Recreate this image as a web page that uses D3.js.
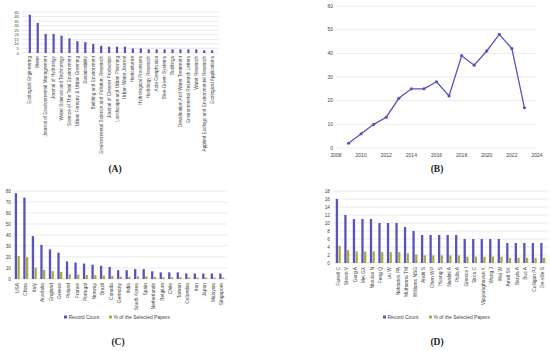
<!DOCTYPE html>
<html>
<head>
<meta charset="utf-8">
<script src="https://cdn.jsdelivr.net/npm/d3@7"></script>
<style>
  body { margin: 0; background: #fff; }
  svg { display: block; }
</style>
</head>
<body>
<div id="chart"></div>
<script>
// Panel A: journals
const journals = ["Ecological Engineering", "Water", "Journal of Environmental Management", "Journal of Hydrology",
  "Water Science and Technology", "Science of The Total Environment", "Urban Forestry & Urban Greening", "Sustainability",
  "Building and Environment", "Environmental Science and Pollution Research", "Journal of Cleaner Production",
  "Landscape and Urban Planning", "Urban Water Journal", "Horticulturae", "Hydrological Processes", "Hydrology Research",
  "Acta Geophysica", "Blue-Green Systems", "Buildings", "Desalination And Water Treatment", "Environmental Research Letters",
  "Water Research", "Applied Ecology and Environmental Research", "Ecological Applications"];
const journalCounts = [42, 33, 21, 21, 19, 16, 13, 12, 10, 8, 7, 7, 7, 5, 5, 4, 4, 4, 4, 4, 4, 4, 3, 3];

// Panel B: papers per year
const years = [2009, 2010, 2011, 2012, 2013, 2014, 2015, 2016, 2017, 2018, 2019, 2020, 2021, 2022, 2023];
const yearCounts = [2, 6, 10, 13, 21, 25, 25, 28, 22, 39, 35, 41, 48, 42, 17];

// Panel C: countries
const countries = ["USA", "China", "Italy", "Australia", "England", "Greece", "Poland", "France", "Portugal", "Norway",
  "Brazil", "Canada", "Germany", "India", "South Korea", "Spain", "Netherlands", "Belgium", "Chile", "Taiwan",
  "Colombia", "Iran", "Japan", "Malaysia", "Singapore"];
const countryCounts = [78, 74, 39, 31, 27, 24, 16, 15, 14, 13, 12, 11, 8, 8, 9, 9, 7, 6, 6, 6, 5, 5, 5, 5, 5];
const countryPct = [20.9, 19.8, 10.4, 8.3, 7.2, 6.4, 4.3, 4.0, 3.7, 3.5, 3.2, 2.9, 2.1, 2.1, 2.4, 2.4, 1.9, 1.6, 1.6, 1.6, 1.3, 1.3, 1.3, 1.3, 1.3];

// Panel D: authors
const authors = ["Farrell C", "Stovin V", "Garg A", "Mei GX", "Ntoulas N", "Feng Q", "Liu W", "Nektarios PA", "Muthanna TM",
  "Williams NSG", "Andri S", "Chen WP", "Huang S", "Nardini A", "Palla A", "Gnecco I", "Sirca C", "Vijayaraghavan K",
  "Wang J", "Wei W", "Arndt SK", "Baryla A", "Bus A", "Culligan PJ", "De-ville S"];
const authorCounts = [16, 12, 11, 11, 11, 10, 10, 10, 9, 8, 7, 7, 7, 7, 7, 6, 6, 6, 6, 6, 5, 5, 5, 5, 5];
const authorPct = [4.3, 3.2, 2.9, 2.9, 2.9, 2.7, 2.7, 2.7, 2.4, 2.1, 1.9, 1.9, 1.9, 1.9, 1.9, 1.6, 1.6, 1.6, 1.6, 1.6, 1.3, 1.3, 1.3, 1.3, 1.3];

const seriesNames = ["Record Count", "% of the Selected Papers"];

const blue = "#5753c2";
const olive = "#abab3c";
const grid = "#e2e2e2";
const txt = "#444";
const font = "'Liberation Sans', Arial, sans-serif";

const svg = d3.select("#chart").append("svg")
  .attr("width", 550).attr("height", 351)
  .attr("font-family", font);

// helper: horizontal gridlines + left tick labels
function yGrid(g, y, ticks, x0, x1, fs) {
  g.selectAll(".gl").data(ticks).join("line")
    .attr("x1", x0).attr("x2", x1)
    .attr("y1", d => y(d)).attr("y2", d => y(d))
    .attr("stroke", grid).attr("stroke-width", 0.7);
  g.selectAll(".tl").data(ticks).join("text")
    .attr("x", x0 - 3).attr("y", d => y(d))
    .attr("dy", "0.35em").attr("text-anchor", "end")
    .attr("font-size", fs).attr("fill", txt)
    .text(d => d);
}

function panelLabel(x, y, s) {
  svg.append("text").attr("x", x).attr("y", y)
    .attr("text-anchor", "middle")
    .attr("font-family", "'Liberation Serif', 'DejaVu Serif', serif")
    .attr("font-size", 9.5).attr("font-weight", "bold").attr("fill", "#222")
    .text(s);
}

/* ---------- Panel A ---------- */
const gA = svg.append("g");
const xA = d3.scaleBand().domain(journals).range([23, 219]).padding(0.72);
const yA = d3.scaleLinear().domain([0, 45]).range([53, 12]);
yGrid(gA, yA, d3.range(0, 46, 5), 22, 219, 4.3);

gA.selectAll(".bar").data(journals).join("rect")
  .attr("x", d => xA(d)).attr("width", xA.bandwidth())
  .attr("y", (d, i) => yA(journalCounts[i]))
  .attr("height", (d, i) => yA(0) - yA(journalCounts[i]))
  .attr("fill", blue);

gA.selectAll(".lab").data(journals).join("text")
  .attr("transform", d => `translate(${xA(d) + xA.bandwidth() / 2 + 1.5},56) rotate(-90)`)
  .attr("text-anchor", "end").attr("font-size", 4.7).attr("fill", txt)
  .text(d => d);
panelLabel(115, 172, "(A)");

/* ---------- Panel B ---------- */
const gB = svg.append("g");
const xB = d3.scaleLinear().domain([2008, 2024]).range([336, 537]);
const yB = d3.scaleLinear().domain([0, 60]).range([148, 6]);
yGrid(gB, yB, d3.range(0, 61, 10), 336, 537, 5);

gB.selectAll(".xt").data(d3.range(2008, 2025, 2)).join("text")
  .attr("x", d => xB(d)).attr("y", 157)
  .attr("text-anchor", "middle").attr("font-size", 5).attr("fill", txt)
  .text(d => d);

const line = d3.line().x((d, i) => xB(years[i])).y(d => yB(d));
gB.append("path").datum(yearCounts)
  .attr("d", line).attr("fill", "none")
  .attr("stroke", blue).attr("stroke-width", 1.3);
gB.selectAll(".pt").data(yearCounts).join("circle")
  .attr("cx", (d, i) => xB(years[i])).attr("cy", d => yB(d))
  .attr("r", 1.6).attr("fill", blue);
panelLabel(437, 172, "(B)");

/* ---------- grouped bars (C and D) ---------- */
function grouped(cats, counts, pct, yMax, yStep, yTop, yBot, x0, x1, gridX0, labY, legY, legX, legGap) {
  const g = svg.append("g");
  const x = d3.scaleBand().domain(cats).range([x0, x1]);
  const y = d3.scaleLinear().domain([0, yMax]).range([yBot, yTop]);
  yGrid(g, y, d3.range(0, yMax + 1, yStep), gridX0, x1 + 1, 4.8);
  const bw = 2.3;
  const mid = d => x(d) + x.bandwidth() / 2;
  g.selectAll(".b1").data(cats).join("rect")
    .attr("x", d => mid(d) - bw - 0.2).attr("width", bw)
    .attr("y", (d, i) => y(counts[i])).attr("height", (d, i) => y(0) - y(counts[i]))
    .attr("fill", blue);
  g.selectAll(".b2").data(cats).join("rect")
    .attr("x", d => mid(d) + 0.2).attr("width", bw)
    .attr("y", (d, i) => y(pct[i])).attr("height", (d, i) => y(0) - y(pct[i]))
    .attr("fill", olive);
  g.selectAll(".lab").data(cats).join("text")
    .attr("transform", d => `translate(${mid(d) + 1.6},${labY}) rotate(-90)`)
    .attr("text-anchor", "end").attr("font-size", 4.9).attr("fill", txt)
    .text(d => d);
  // legend
  const leg = g.append("g").attr("transform", `translate(${legX},${legY})`);
  const offs = [0, legGap];
  seriesNames.forEach((s, i) => {
    leg.append("rect").attr("x", offs[i]).attr("y", -1.5).attr("width", 3).attr("height", 3)
      .attr("fill", i === 0 ? blue : olive);
    leg.append("text").attr("x", offs[i] + 4.5).attr("y", 0).attr("dy", "0.35em")
      .attr("font-size", 5).attr("fill", txt).text(s);
  });
}

grouped(countries, countryCounts, countryPct, 80, 10, 191, 279, 13, 226, 14, 283, 317, 64, 45);
panelLabel(118, 345, "(C)");

grouped(authors, authorCounts, authorPct, 18, 2, 191, 263, 334, 547, 333, 267, 317, 383, 46);
panelLabel(437, 345, "(D)");
</script>
</body>
</html>
